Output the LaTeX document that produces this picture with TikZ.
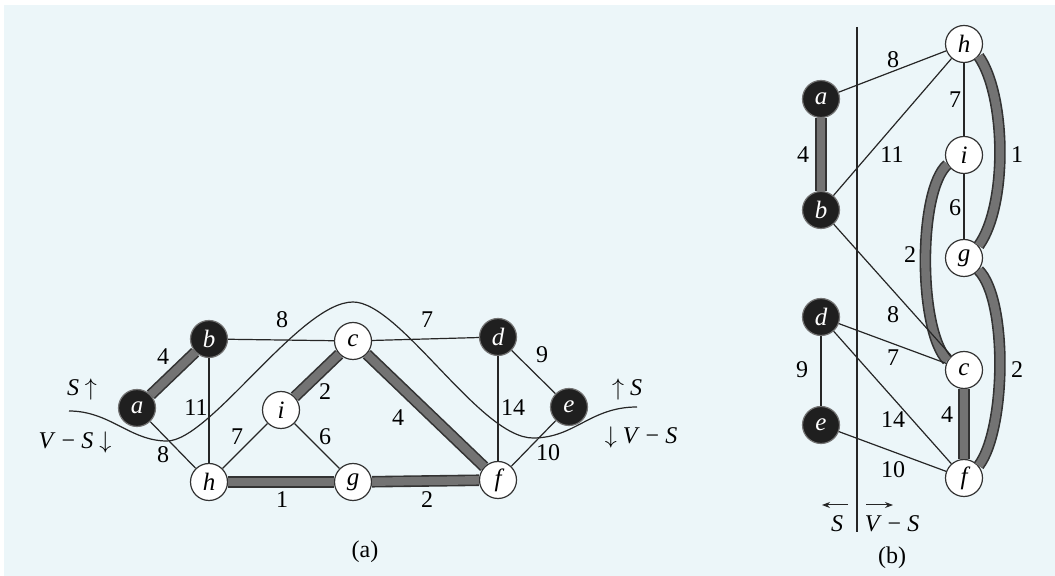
\documentclass[tikz,border=0pt]{standalone}
\usepackage{fontspec}
\usetikzlibrary{arrows.meta}
\setmainfont{Liberation Serif}
\definecolor{bgc}{RGB}{236,246,249}
\begin{document}
\begin{tikzpicture}[x=0.5pt,y=-0.5pt,
  wnode/.style={circle,draw=black!80,fill=white,line width=0.6pt,minimum size=18.5pt,inner sep=0pt,font=\fontsize{12.5}{14}\selectfont\itshape},
  bnode/.style={wnode,fill=black!88,draw=black!55,text=white},
  thin/.style={draw=black!85,line width=0.6pt},
  thick/.style={draw=black!80,line width=0.8pt,double=black!55,double distance=4.2pt},
  lab/.style={font=\fontsize{12}{14}\selectfont,inner sep=1pt},
  cut/.style={draw=black!85,line width=0.6pt},
  dirarrow/.style={draw=black!85,line width=0.5pt,-{Stealth[length=4pt,width=3pt]}}]
\useasboundingbox (0,0) rectangle (1055,576);
\fill[white] (0,0) rectangle (1055,576);
\fill[bgc] (4,5) rectangle (1055,576);
% ---------- (a) ----------
\node[bnode] (a) at (137,408) {a};
\node[bnode] (b) at (209,339) {b};
\node[wnode] (c) at (353,341) {c};
\node[wnode] (i) at (281,410) {i};
\node[wnode] (h) at (209,482) {h};
\node[wnode] (g) at (353,482) {g};
\node[bnode] (d) at (498,337) {d};
\node[bnode] (e) at (569,407) {e};
\node[wnode] (f) at (498,480) {f};
\draw[thick] (a) -- (b);
\draw[thick] (c) -- (i);
\draw[thick] (c) -- (f);
\draw[thick] (h) -- (g);
\draw[thick] (g) -- (f);
\draw[thin] (b) -- (c);
\draw[thin] (b) -- (h);
\draw[thin] (a) -- (h);
\draw[thin] (h) -- (i);
\draw[thin] (i) -- (g);
\draw[thin] (c) -- (d);
\draw[thin] (d) -- (f);
\draw[thin] (d) -- (e);
\draw[thin] (e) -- (f);
\coordinate (cutL) at (69,411);
\coordinate (cutR) at (637,407);
\draw[cut] (cutL) .. controls (110,411) and (130,441) .. (167,441)
  .. controls (210,441) and (300,302) .. (353,302)
  .. controls (400,302) and (480,438) .. (533,438)
  .. controls (575,438) and (590,407) .. (cutR);
\node[lab] (la1) at (282,320) {8};
\node[lab] (la2) at (163,357) {4};
\node[lab] (la3) at (196,408) {11};
\node[lab] (la4) at (163,455) {8};
\node[lab] (la5) at (237,437) {7};
\node[lab] (la6) at (325,392) {2};
\node[lab] (la7) at (325,437) {6};
\node[lab] (la8) at (282,500) {1};
\node[lab] (la9) at (427,320) {7};
\node[lab] (la10) at (398,418) {4};
\node[lab] (la11) at (542,355) {9};
\node[lab] (la12) at (513,408) {14};
\node[lab] (la13) at (548,453) {10};
\node[lab] (la14) at (427,500) {2};
\node[lab] (sl1) at (82,390) {\textit{S} $\uparrow$};
\node[lab] (sl2) at (75,443) {\textit{V} − \textit{S} $\downarrow$};
\node[lab] (sr1) at (627,390) {$\uparrow$ \textit{S}};
\node[lab] (sr2) at (641,438) {$\downarrow$ \textit{V} − \textit{S}};
\node[lab] (capa) at (365,552) {(a)};
% ---------- (b) ----------
\node[wnode] (h2) at (964,44) {h};
\node[bnode] (a2) at (821,99) {a};
\node[wnode] (i2) at (964,155) {i};
\node[bnode] (b2) at (821,210) {b};
\node[wnode] (g2) at (964,258) {g};
\node[bnode] (d2) at (821,317) {d};
\node[wnode] (c2) at (964,370) {c};
\node[bnode] (e2) at (821,425) {e};
\node[wnode] (f2) at (964,478) {f};
\coordinate (vt) at (857,27);
\coordinate (vb) at (857,532);
\draw[thin] (vt) -- (vb);
\draw[thick] (a2) -- (b2);
\draw[thick] (c2) -- (f2);
\draw[thick] (h2.-40) .. controls (1006,95) and (1008,205) .. (g2.40);
\draw[thick] (i2.-150) .. controls (918,190) and (918,330) .. (c2.150);
\draw[thick] (g2.-40) .. controls (1008,300) and (1006,430) .. (f2.40);
\draw[thin] (a2) -- (h2);
\draw[thin] (b2) -- (h2);
\draw[thin] (h2) -- (i2);
\draw[thin] (i2) -- (g2);
\draw[thin] (b2) -- (c2);
\draw[thin] (d2) -- (c2);
\draw[thin] (d2) -- (f2);
\draw[thin] (d2) -- (e2);
\draw[thin] (e2) -- (f2);
\node[lab] (lb1) at (893,60) {8};
\node[lab] (lb2) at (955,100) {7};
\node[lab] (lb3) at (803,155) {4};
\node[lab] (lb4) at (892,155) {11};
\node[lab] (lb5) at (1017,155) {1};
\node[lab] (lb6) at (955,208) {6};
\node[lab] (lb7) at (910,255) {2};
\node[lab] (lb8) at (893,315) {8};
\node[lab] (lb9) at (1017,370) {2};
\node[lab] (lb10) at (893,358) {7};
\node[lab] (lb11) at (802,370) {9};
\node[lab] (lb12) at (893,420) {14};
\node[lab] (lb13) at (947,415) {4};
\node[lab] (lb14) at (893,470) {10};
\coordinate (al1) at (848,505);
\coordinate (al2) at (822,505);
\coordinate (ar1) at (866,505);
\coordinate (ar2) at (893,505);
\draw[dirarrow] (al1) -- (al2);
\draw[dirarrow] (ar1) -- (ar2);
\node[lab] (sb) at (837,524) {\textit{S}};
\node[lab] (vsb) at (892,524) {\textit{V} − \textit{S}};
\node[lab] (capb) at (892,558) {(b)};
\end{tikzpicture}
\end{document}
